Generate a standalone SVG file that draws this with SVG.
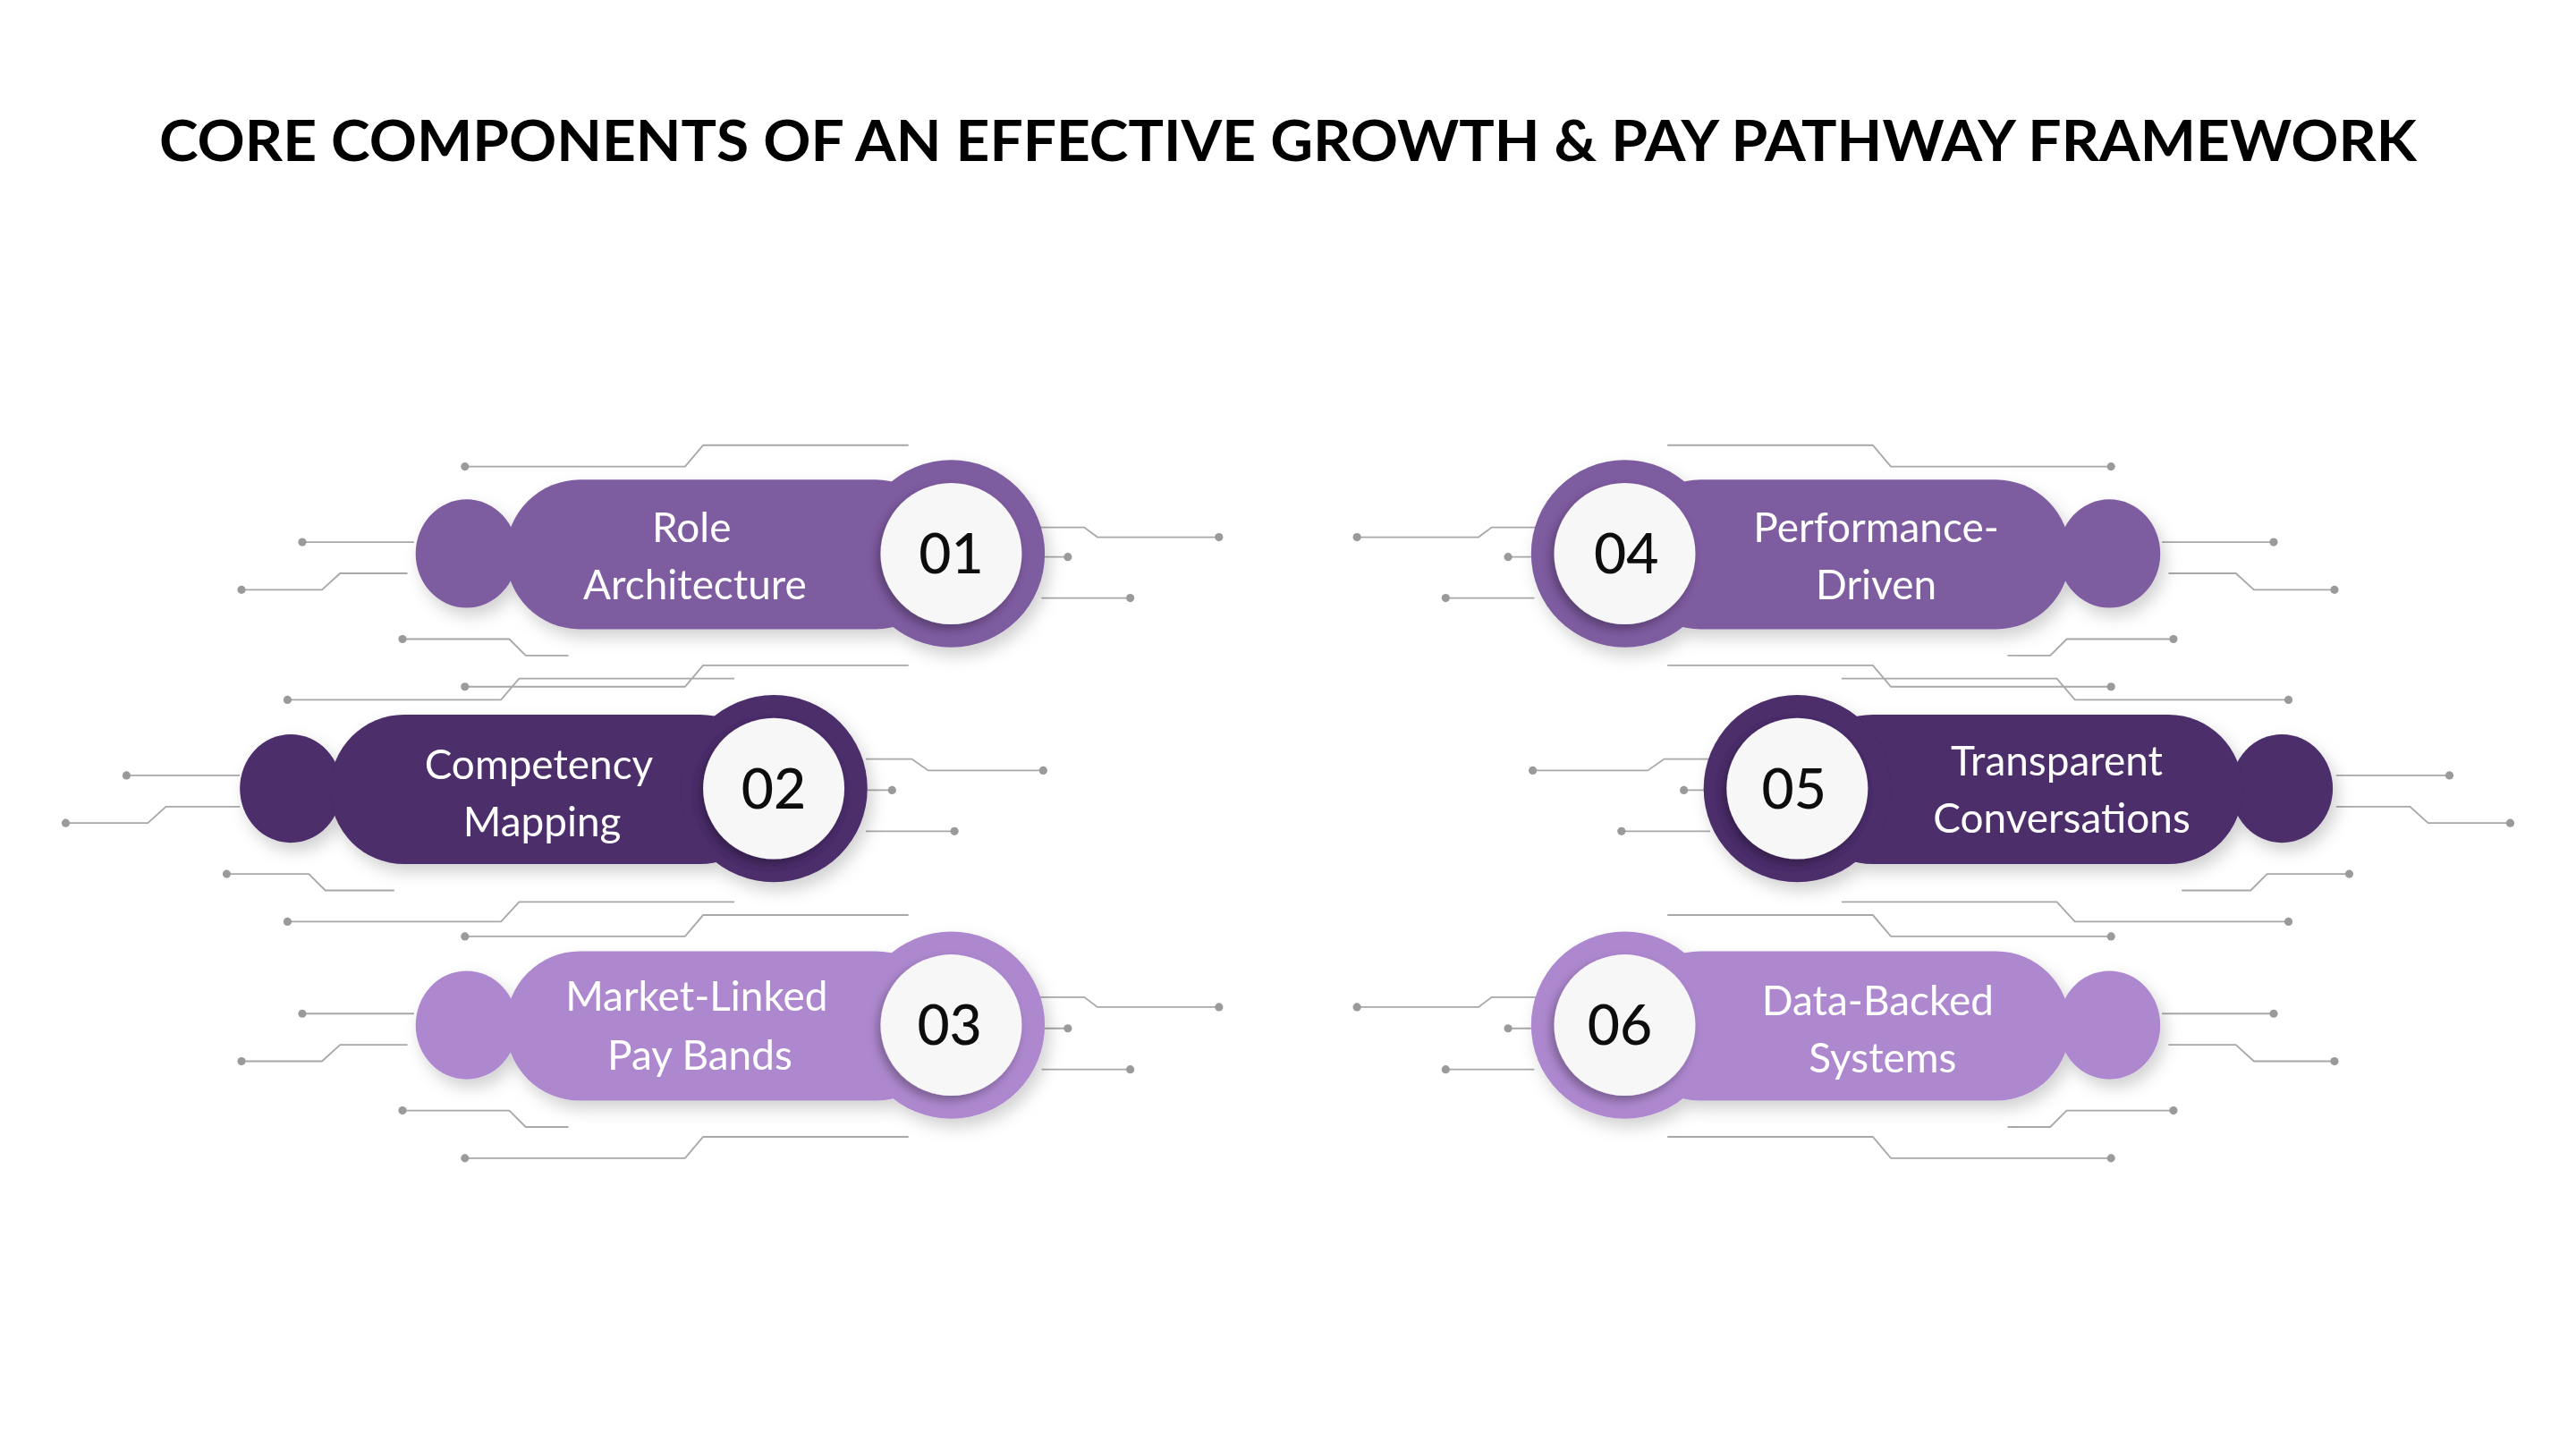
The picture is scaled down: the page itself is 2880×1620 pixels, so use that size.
<svg xmlns="http://www.w3.org/2000/svg" width="2880" height="1620" viewBox="0 0 2880 1620">
<defs>
<filter id="sh" x="-30%" y="-30%" width="160%" height="170%"><feDropShadow dx="3" dy="5" stdDeviation="5" flood-color="#000" flood-opacity="0.18"/></filter>
<filter id="sh2" x="-30%" y="-30%" width="160%" height="160%"><feDropShadow dx="-2" dy="3" stdDeviation="3" flood-color="#000" flood-opacity="0.3"/></filter>
</defs>
<style>
.ln{fill:none;stroke:#a8a8a8;stroke-width:1}
.dt{fill:#9a9a9a}
.lbl{font-family:"Lato","Noto Sans",sans-serif;font-size:25px;fill:#fff;text-anchor:middle}
.num{font-family:"Lato","Noto Sans",sans-serif;font-size:34px;font-weight:500;fill:#111;text-anchor:middle}
.c1{fill:#7E5BA0}.c2{fill:#4B2D6B}.c3{fill:#AE88CF}
.w{fill:#F7F7F7}
</style>
<rect width="2880" height="1620" fill="#fff"/>
<text x="1440" y="180" font-family="Lato,'Noto Sans',sans-serif" font-weight="700" font-size="64" text-anchor="middle" textLength="2524" lengthAdjust="spacingAndGlyphs" fill="#000">CORE COMPONENTS OF AN EFFECTIVE GROWTH &amp; PAY PATHWAY FRAMEWORK</text>
<g transform="scale(1.8367)">
<g id="connectors">
<g id="left-lines">
<path class="ln" d="M283,284H417L428,271H553M184,330H252M147,359H196L207,349H248M245,389H310L320,399H346M742,327H668L660,321H632M650,339H636M688,364H634M283,418H417L428,405H553M175,426H305L316,413H447M77,472H146M40,501H90L101,491H146M635,469H565L555,462H527M543,481H528M581,506H527M138,532H188L198,542H240M175,561H305L316,549H447M283,570H417L428,557H553M184,617H252M147,646H196L207,636H248M742,613H668L660,607H632M650,626H636M688,651H634M245,676H310L320,686H346M283,705H417L428,692H553"/>
<g class="dt"><circle cx="283" cy="284" r="2.5"/><circle cx="184" cy="330" r="2.5"/><circle cx="147" cy="359" r="2.5"/><circle cx="245" cy="389" r="2.5"/><circle cx="742" cy="327" r="2.5"/><circle cx="650" cy="339" r="2.5"/><circle cx="688" cy="364" r="2.5"/><circle cx="283" cy="418" r="2.5"/><circle cx="175" cy="426" r="2.5"/><circle cx="77" cy="472" r="2.5"/><circle cx="40" cy="501" r="2.5"/><circle cx="635" cy="469" r="2.5"/><circle cx="543" cy="481" r="2.5"/><circle cx="581" cy="506" r="2.5"/><circle cx="138" cy="532" r="2.5"/><circle cx="175" cy="561" r="2.5"/><circle cx="283" cy="570" r="2.5"/><circle cx="184" cy="617" r="2.5"/><circle cx="147" cy="646" r="2.5"/><circle cx="742" cy="613" r="2.5"/><circle cx="650" cy="626" r="2.5"/><circle cx="688" cy="651" r="2.5"/><circle cx="245" cy="676" r="2.5"/><circle cx="283" cy="705" r="2.5"/></g>
</g>
<g id="right-lines" transform="matrix(-1 0 0 1 1568 0)">
<path class="ln" d="M283,284H417L428,271H553M184,330H252M147,359H196L207,349H248M245,389H310L320,399H346M742,327H668L660,321H632M650,339H636M688,364H634M283,418H417L428,405H553M175,426H305L316,413H447M77,472H146M40,501H90L101,491H146M635,469H565L555,462H527M543,481H528M581,506H527M138,532H188L198,542H240M175,561H305L316,549H447M283,570H417L428,557H553M184,617H252M147,646H196L207,636H248M742,613H668L660,607H632M650,626H636M688,651H634M245,676H310L320,686H346M283,705H417L428,692H553"/>
<g class="dt"><circle cx="283" cy="284" r="2.5"/><circle cx="184" cy="330" r="2.5"/><circle cx="147" cy="359" r="2.5"/><circle cx="245" cy="389" r="2.5"/><circle cx="742" cy="327" r="2.5"/><circle cx="650" cy="339" r="2.5"/><circle cx="688" cy="364" r="2.5"/><circle cx="283" cy="418" r="2.5"/><circle cx="175" cy="426" r="2.5"/><circle cx="77" cy="472" r="2.5"/><circle cx="40" cy="501" r="2.5"/><circle cx="635" cy="469" r="2.5"/><circle cx="543" cy="481" r="2.5"/><circle cx="581" cy="506" r="2.5"/><circle cx="138" cy="532" r="2.5"/><circle cx="175" cy="561" r="2.5"/><circle cx="283" cy="570" r="2.5"/><circle cx="184" cy="617" r="2.5"/><circle cx="147" cy="646" r="2.5"/><circle cx="742" cy="613" r="2.5"/><circle cx="650" cy="626" r="2.5"/><circle cx="688" cy="651" r="2.5"/><circle cx="245" cy="676" r="2.5"/><circle cx="283" cy="705" r="2.5"/></g>
</g>
</g>
<g id="node01" filter="url(#sh)">
<ellipse class="c1" cx="284" cy="337" rx="31" ry="33"/>
<rect class="c1" x="308" y="292" width="270" height="91" rx="45"/>
<circle class="c1" cx="579" cy="337" r="57"/>
<circle class="w" cx="579" cy="337" r="43" filter="url(#sh2)"/>
<text class="lbl" x="421" y="330">Role</text><text class="lbl" x="423" y="365">Architecture</text>
<text class="num" x="579" y="349">01</text>
</g>
<g id="node02" filter="url(#sh)">
<ellipse class="c2" cx="177" cy="480" rx="31" ry="33"/>
<rect class="c2" x="201" y="435" width="270" height="91" rx="45"/>
<circle class="c2" cx="471" cy="480" r="57"/>
<circle class="w" cx="471" cy="480" r="43" filter="url(#sh2)"/>
<text class="lbl" x="328" y="474">Competency</text><text class="lbl" x="330" y="509">Mapping</text>
<text class="num" x="471" y="492">02</text>
</g>
<g id="node03" filter="url(#sh)">
<ellipse class="c3" cx="284" cy="624" rx="31" ry="33"/>
<rect class="c3" x="308" y="579" width="270" height="91" rx="45"/>
<circle class="c3" cx="579" cy="624" r="57"/>
<circle class="w" cx="579" cy="624" r="43" filter="url(#sh2)"/>
<text class="lbl" x="424" y="615">Market-Linked</text><text class="lbl" x="426" y="651">Pay Bands</text>
<text class="num" x="578" y="636">03</text>
</g>
<g id="node04" filter="url(#sh)">
<ellipse class="c1" cx="1284" cy="337" rx="31" ry="33"/>
<rect class="c1" x="990" y="292" width="270" height="91" rx="45"/>
<circle class="c1" cx="989" cy="337" r="57"/>
<circle class="w" cx="989" cy="337" r="43" filter="url(#sh2)"/>
<text class="lbl" x="1142" y="330">Performance-</text><text class="lbl" x="1142" y="365">Driven</text>
<text class="num" x="990" y="349">04</text>
</g>
<g id="node05" filter="url(#sh)">
<ellipse class="c2" cx="1389" cy="480" rx="31" ry="33"/>
<rect class="c2" x="1095" y="435" width="270" height="91" rx="45"/>
<circle class="c2" cx="1094" cy="480" r="57"/>
<circle class="w" cx="1094" cy="480" r="43" filter="url(#sh2)"/>
<text class="lbl" x="1252" y="472">Transparent</text><text class="lbl" x="1255" y="507">Conversations</text>
<text class="num" x="1092" y="492">05</text>
</g>
<g id="node06" filter="url(#sh)">
<ellipse class="c3" cx="1284" cy="624" rx="31" ry="33"/>
<rect class="c3" x="990" y="579" width="270" height="91" rx="45"/>
<circle class="c3" cx="989" cy="624" r="57"/>
<circle class="w" cx="989" cy="624" r="43" filter="url(#sh2)"/>
<text class="lbl" x="1143" y="618">Data-Backed</text><text class="lbl" x="1146" y="653">Systems</text>
<text class="num" x="986" y="636">06</text>
</g>
</g>
</svg>
